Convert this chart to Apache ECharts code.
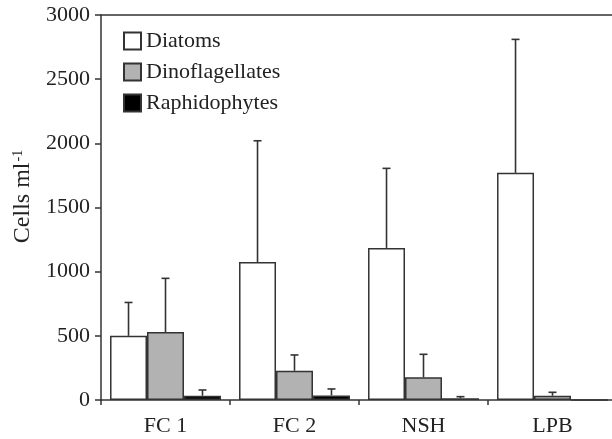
<!DOCTYPE html>
<html>
<head>
<meta charset="utf-8">
<script src="https://cdn.jsdelivr.net/npm/echarts@6/dist/echarts.min.js"></script>
<style>
  html, body { margin: 0; padding: 0; background: #fff; }
  #chart { width: 612px; height: 439px; }
</style>
</head>
<body>
<div id="chart"></div>
<script>
// 站点
var categories = ['FC 1', 'FC 2', 'NSH', 'LPB'];
// 均值
var diatoms = [500, 1075, 1185, 1770];
var dinoflagellates = [530, 228, 177, 33];
var raphidophytes = [33, 36, 14, 0];
// 误差棒上端
var diatomsErr = [760, 2020, 1805, 2810];
var dinoflagellatesErr = [948, 351, 356, 60];
var raphidophytesErr = [78, 86, 26, null];

var yTicks = [0, 500, 1000, 1500, 2000, 2500, 3000];

var lineColor = '#333';
var font = '"Liberation Serif", "DejaVu Serif", serif';
var groupFrac = 0.86; // 1 - barCategoryGap

function errData(values, errs) {
  var out = [];
  for (var i = 0; i < values.length; i++) {
    if (errs[i] != null) out.push([i, values[i], errs[i]]);
  }
  return out;
}

// 误差棒：竖线 + 顶部短横
function errRender(slot) {
  return function (params, api) {
    var idx = api.value(0);
    var base = api.coord([idx, api.value(1)]);
    var top = api.coord([idx, api.value(2)]);
    var band = api.size([1, 0])[0];
    var bw = band * groupFrac / 3;
    var x = base[0] + (slot - 1) * bw;
    var cap = 4;
    var style = { stroke: lineColor, lineWidth: 1.6 };
    return {
      type: 'group',
      children: [
        { type: 'line', shape: { x1: x, y1: base[1], x2: x, y2: top[1] }, style: style },
        { type: 'line', shape: { x1: x - cap, y1: top[1], x2: x + cap, y2: top[1] }, style: style }
      ]
    };
  };
}

var chart = echarts.init(document.getElementById('chart'));

var barStyle = function (c) {
  return { color: c, borderColor: lineColor, borderWidth: 1.5 };
};

var option = {
  animation: false,
  textStyle: { fontFamily: font },
  grid: {
    left: 101, top: 15, width: 516, bottom: 39,
    outerBoundsMode: 'none',
    show: false
  },
  legend: {
    orient: 'vertical',
    left: 118, top: 25,
    icon: 'rect',
    itemWidth: 17, itemHeight: 17, itemGap: 9,
    textStyle: { fontFamily: font, fontSize: 22, color: '#222' },
    data: ['Diatoms', 'Dinoflagellates', 'Raphidophytes']
  },
  xAxis: [{
    type: 'category',
    data: categories,
    axisLine: { lineStyle: { color: lineColor, width: 1.5 } },
    axisTick: { show: true, length: 5, lineStyle: { color: lineColor, width: 1.5 } },
    axisLabel: { fontFamily: font, fontSize: 22, color: '#222', margin: 15 },
    splitLine: { show: false }
  }, {
    // 顶部边框线
    type: 'category',
    position: 'top',
    data: categories,
    axisLine: { lineStyle: { color: lineColor, width: 1.5 } },
    axisTick: { show: false },
    axisLabel: { show: false },
    splitLine: { show: false }
  }],
  yAxis: {
    type: 'value',
    min: yTicks[0], max: yTicks[yTicks.length - 1], interval: 500,
    name: '{a|Cells ml}{b|-1}',
    nameLocation: 'middle',
    nameGap: 66,
    nameRotate: 90,
    nameTextStyle: {
      padding: [0, 0, 0, 22],
      rich: {
        a: { fontFamily: font, fontSize: 24, color: '#222' },
        b: { fontFamily: font, fontSize: 14, color: '#222', verticalAlign: 'top', padding: [0, 0, 10, 1] }
      }
    },
    axisLine: { show: true, lineStyle: { color: lineColor, width: 1.5 } },
    axisTick: { show: true, length: 6, lineStyle: { color: lineColor, width: 1.5 } },
    axisLabel: {
      fontFamily: font, fontSize: 22, color: '#222', margin: 11,
      formatter: function (v) { return String(v); }
    },
    splitLine: { show: false }
  },
  series: [
    { name: 'Diatoms', type: 'bar', data: diatoms, barGap: '0%', barCategoryGap: '14%', itemStyle: barStyle('#ffffff') },
    { name: 'Dinoflagellates', type: 'bar', data: dinoflagellates, itemStyle: barStyle('#b2b2b2') },
    { name: 'Raphidophytes', type: 'bar', data: raphidophytes, itemStyle: barStyle('#000000') },
    { type: 'custom', renderItem: errRender(0), data: errData(diatoms, diatomsErr), z: 5, encode: { x: 0, y: [1, 2] } },
    { type: 'custom', renderItem: errRender(1), data: errData(dinoflagellates, dinoflagellatesErr), z: 5, encode: { x: 0, y: [1, 2] } },
    { type: 'custom', renderItem: errRender(2), data: errData(raphidophytes, raphidophytesErr), z: 5, encode: { x: 0, y: [1, 2] } }
  ]
};

chart.setOption(option);
</script>
</body>
</html>
